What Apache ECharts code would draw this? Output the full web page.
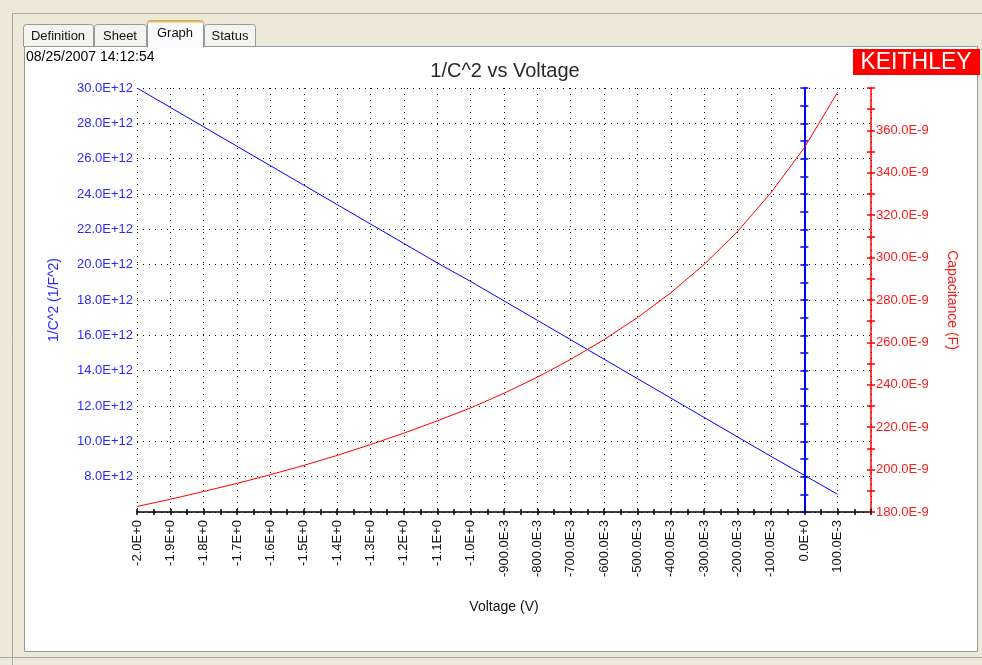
<!DOCTYPE html>
<html>
<head>
<meta charset="utf-8">
<script src="https://cdn.jsdelivr.net/npm/echarts@6/dist/echarts.min.js"></script>
<style>html,body{margin:0;padding:0;background:#ece9d8;}#c{width:982px;height:665px;}</style>
</head>
<body>
<div id="c"></div>
<script>
// ---- data ----
const voltages = [-2.0, -1.9, -1.8, -1.7, -1.6, -1.5, -1.4, -1.3, -1.2, -1.1, -1.0, -0.9, -0.8, -0.7, -0.6, -0.5, -0.4, -0.3, -0.2, -0.1, 0.0, 0.1];
// 1/C^2 in units of 1E+12 (1/F^2)
const invCapSq = [30.0, 28.9, 27.8, 26.7, 25.6, 24.5, 23.4, 22.3, 21.2, 20.1, 19.05, 17.95, 16.85, 15.75, 14.65, 13.55, 12.45, 11.35, 10.25, 9.15, 8.08, 7.0];
// Capacitance in units of 1E-9 (F)
const capacitance = [182.6, 186.0, 189.7, 193.5, 197.6, 202.0, 206.7, 211.8, 217.2, 223.0, 229.1, 236.0, 243.6, 252.0, 261.3, 271.7, 283.4, 296.8, 312.3, 330.6, 351.8, 378.0];

const xTickLabels = ['-2.0E+0','-1.9E+0','-1.8E+0','-1.7E+0','-1.6E+0','-1.5E+0','-1.4E+0','-1.3E+0','-1.2E+0','-1.1E+0','-1.0E+0',
  '-900.0E-3','-800.0E-3','-700.0E-3','-600.0E-3','-500.0E-3','-400.0E-3','-300.0E-3','-200.0E-3','-100.0E-3','0.0E+0','100.0E-3'];
const leftTickValues = [8, 10, 12, 14, 16, 18, 20, 22, 24, 26, 28, 30];
const leftTickLabels = ['8.0E+12','10.0E+12','12.0E+12','14.0E+12','16.0E+12','18.0E+12','20.0E+12','22.0E+12','24.0E+12','26.0E+12','28.0E+12','30.0E+12'];
const rightTickValues = [180, 200, 220, 240, 260, 280, 300, 320, 340, 360];
const rightTickLabels = ['180.0E-9','200.0E-9','220.0E-9','240.0E-9','260.0E-9','280.0E-9','300.0E-9','320.0E-9','340.0E-9','360.0E-9'];

const FONT = 'Liberation Sans, Arial, sans-serif';
const BLUE = '#0000ff';
const BLUE_TXT = '#2a2aff';
const RED = '#ff0000';
const RED_TXT = '#ff1a1a';

const blueData = voltages.map((v, i) => [v, invCapSq[i]]);
const redData = voltages.map((v, i) => [v, capacitance[i]]);

function xLabel(v) {
  const idx = Math.round((v + 2) * 10);
  if (Math.abs((v + 2) * 10 - idx) > 1e-6) return '';
  return xTickLabels[idx] || '';
}
function lookup(vals, labs) {
  return function (v) {
    for (let i = 0; i < vals.length; i++) if (Math.abs(vals[i] - v) < 1e-6) return labs[i];
    return '';
  };
}

const dotted = { color: '#000', width: 1, type: [1, 5] };

const chart = echarts.init(document.getElementById('c'), null, { renderer: 'canvas' });
const option = {
  animation: false,
  backgroundColor: '#ece9d8',
  textStyle: { fontFamily: FONT },
  title: {
    text: '1/C^2 vs Voltage',
    left: 500, top: 56, textAlign: 'center',
    textStyle: { fontFamily: FONT, fontSize: 20, fontWeight: 'normal', color: '#2a2a2a' }
  },
  grid: { left: 137, right: 111, top: 88, bottom: 153, containLabel: false },
  xAxis: [
    {
      type: 'value', min: -2.0, max: 0.2, interval: 0.1,
      name: 'Voltage (V)', nameLocation: 'middle', nameGap: 88,
      nameTextStyle: { fontFamily: FONT, fontSize: 14, color: '#111' },
      axisLine: { show: true, onZero: false, lineStyle: { color: '#000', width: 1.5 } },
      axisTick: { show: true, inside: false, length: 3, lineStyle: { color: '#000', width: 1.5 } },
      minorTick: { show: true, splitNumber: 2, length: 3, lineStyle: { color: '#000', width: 1.5 } },
      axisLabel: { show: true, rotate: 90, margin: 8, fontFamily: FONT, fontSize: 13, color: '#111', formatter: xLabel, showMinLabel: true, showMaxLabel: true, hideOverlap: false },
      splitLine: { show: true, lineStyle: dotted }
    },
    {
      type: 'value', min: -2.0, max: 0.2, interval: 0.1, position: 'bottom',
      axisLine: { show: false, onZero: false },
      axisTick: { show: true, inside: true, length: 3, lineStyle: { color: '#000', width: 1.5 } },
      minorTick: { show: true, splitNumber: 2, length: 3, lineStyle: { color: '#000', width: 1.5 } },
      axisLabel: { show: false },
      splitLine: { show: false }
    }
  ],
  yAxis: [
    {
      type: 'value', min: 6, max: 30, interval: 2, position: 'left',
      name: '1/C^2 (1/F^2)', nameLocation: 'middle', nameGap: 76, nameRotate: 90,
      nameTextStyle: { fontFamily: FONT, fontSize: 14, color: BLUE_TXT },
      axisLine: { show: false, onZero: false },
      axisTick: { show: false },
      axisLabel: { show: true, margin: 4, fontFamily: FONT, fontSize: 13, color: BLUE_TXT, formatter: lookup(leftTickValues, leftTickLabels), showMinLabel: true, showMaxLabel: true },
      splitLine: { show: true, lineStyle: dotted }
    },
    {
      type: 'value', min: 180, max: 380, interval: 20, position: 'right',
      name: 'Capacitance (F)', nameLocation: 'middle', nameGap: 74, nameRotate: -90,
      nameTextStyle: { fontFamily: FONT, fontSize: 14, color: RED_TXT },
      axisLine: { show: true, onZero: false, lineStyle: { color: RED, width: 1.5 } },
      axisTick: { show: true, inside: false, length: 4, lineStyle: { color: RED, width: 1.5 } },
      minorTick: { show: true, splitNumber: 2, length: 4, lineStyle: { color: RED, width: 1.5 } },
      axisLabel: { show: true, margin: 5, fontFamily: FONT, fontSize: 13, color: RED_TXT, formatter: lookup(rightTickValues, rightTickLabels), showMinLabel: true, showMaxLabel: true },
      splitLine: { show: false }
    },
    {
      type: 'value', min: 180, max: 380, interval: 20, position: 'right',
      axisLine: { show: false, onZero: false },
      axisTick: { show: true, inside: true, length: 4, lineStyle: { color: RED, width: 1.5 } },
      minorTick: { show: true, splitNumber: 2, length: 4, lineStyle: { color: RED, width: 1.5 } },
      axisLabel: { show: false },
      splitLine: { show: false }
    },
    {
      type: 'value', min: 6, max: 30, interval: 1, position: 'left',
      axisLine: { show: true, onZero: true, onZeroAxisIndex: 0, lineStyle: { color: BLUE, width: 2 } },
      axisTick: { show: true, inside: false, length: 4, lineStyle: { color: BLUE, width: 1.5 } },
      axisLabel: { show: false },
      splitLine: { show: false }
    },
    {
      type: 'value', min: 6, max: 30, interval: 1, position: 'left',
      axisLine: { show: true, onZero: true, onZeroAxisIndex: 0, lineStyle: { color: BLUE, width: 2 } },
      axisTick: { show: true, inside: true, length: 4, lineStyle: { color: BLUE, width: 1.5 } },
      axisLabel: { show: false },
      splitLine: { show: false }
    }
  ],
  series: [
    {
      name: '1/C^2', type: 'line', xAxisIndex: 0, yAxisIndex: 0, data: blueData,
      showSymbol: false, symbol: 'none', smooth: false, z: 5,
      lineStyle: { color: BLUE, width: 1 }
    },
    {
      name: 'Capacitance', type: 'line', xAxisIndex: 0, yAxisIndex: 1, data: redData,
      showSymbol: false, symbol: 'none', smooth: false, z: 5,
      lineStyle: { color: RED, width: 1 }
    }
  ],
  graphic: [
    { type: 'rect', z: -100, shape: { x: 12.5, y: 13.5, width: 972, height: 660 }, style: { fill: '#ece9d8', stroke: '#a7a6aa', lineWidth: 1 } },
    { type: 'rect', z: -99, shape: { x: 24.5, y: 46.5, width: 953, height: 605 }, style: { fill: '#ffffff', stroke: '#919b9c', lineWidth: 1 } },
    { type: 'line', z: -98, shape: { x1: 0, y1: 657.5, x2: 982, y2: 657.5 }, style: { stroke: '#a7a6aa', lineWidth: 1 } },
    // tabs
    { type: 'rect', z: -97, shape: { x: 23.5, y: 24.5, width: 70, height: 22, r: [3, 3, 0, 0] }, style: { fill: '#f4f3ee', stroke: '#919b9c' } },
    { type: 'text', z: -96, style: { x: 58, y: 36, text: 'Definition', align: 'center', verticalAlign: 'middle', fontFamily: FONT, fontSize: 13, fill: '#111' } },
    { type: 'rect', z: -97, shape: { x: 94.5, y: 24.5, width: 52, height: 22, r: [3, 3, 0, 0] }, style: { fill: '#f4f3ee', stroke: '#919b9c' } },
    { type: 'text', z: -96, style: { x: 120, y: 36, text: 'Sheet', align: 'center', verticalAlign: 'middle', fontFamily: FONT, fontSize: 13, fill: '#111' } },
    { type: 'rect', z: -97, shape: { x: 204.5, y: 24.5, width: 51, height: 22, r: [3, 3, 0, 0] }, style: { fill: '#f4f3ee', stroke: '#919b9c' } },
    { type: 'text', z: -96, style: { x: 230, y: 36, text: 'Status', align: 'center', verticalAlign: 'middle', fontFamily: FONT, fontSize: 13, fill: '#111' } },
    { type: 'rect', z: -96, shape: { x: 147.5, y: 20.5, width: 56, height: 27, r: [3, 3, 0, 0] }, style: { fill: '#fcfcfe', stroke: '#919b9c' } },
    { type: 'rect', z: -95, shape: { x: 148, y: 46, width: 55, height: 3 }, style: { fill: '#fcfcfe' } },
    { type: 'rect', z: -95, shape: { x: 148, y: 20.5, width: 55, height: 2 }, style: { fill: '#f5b74a' } },
    { type: 'text', z: -94, style: { x: 175, y: 33, text: 'Graph', align: 'center', verticalAlign: 'middle', fontFamily: FONT, fontSize: 13, fill: '#111' } },
    // date stamp
    { type: 'text', z: 10, style: { x: 26, y: 57, text: '08/25/2007 14:12:54', align: 'left', verticalAlign: 'middle', fontFamily: FONT, fontSize: 14, fill: '#000' } },
    // Keithley logo
    { type: 'rect', z: 10, shape: { x: 853, y: 49, width: 127, height: 26 }, style: { fill: '#ff0000' } },
    { type: 'text', z: 11, style: { x: 916, y: 63, text: 'KEITHLEY', align: 'center', verticalAlign: 'middle', fontFamily: FONT, fontSize: 23, fill: '#ffffff' } }
  ]
};
chart.setOption(option);
</script>
</body>
</html>
